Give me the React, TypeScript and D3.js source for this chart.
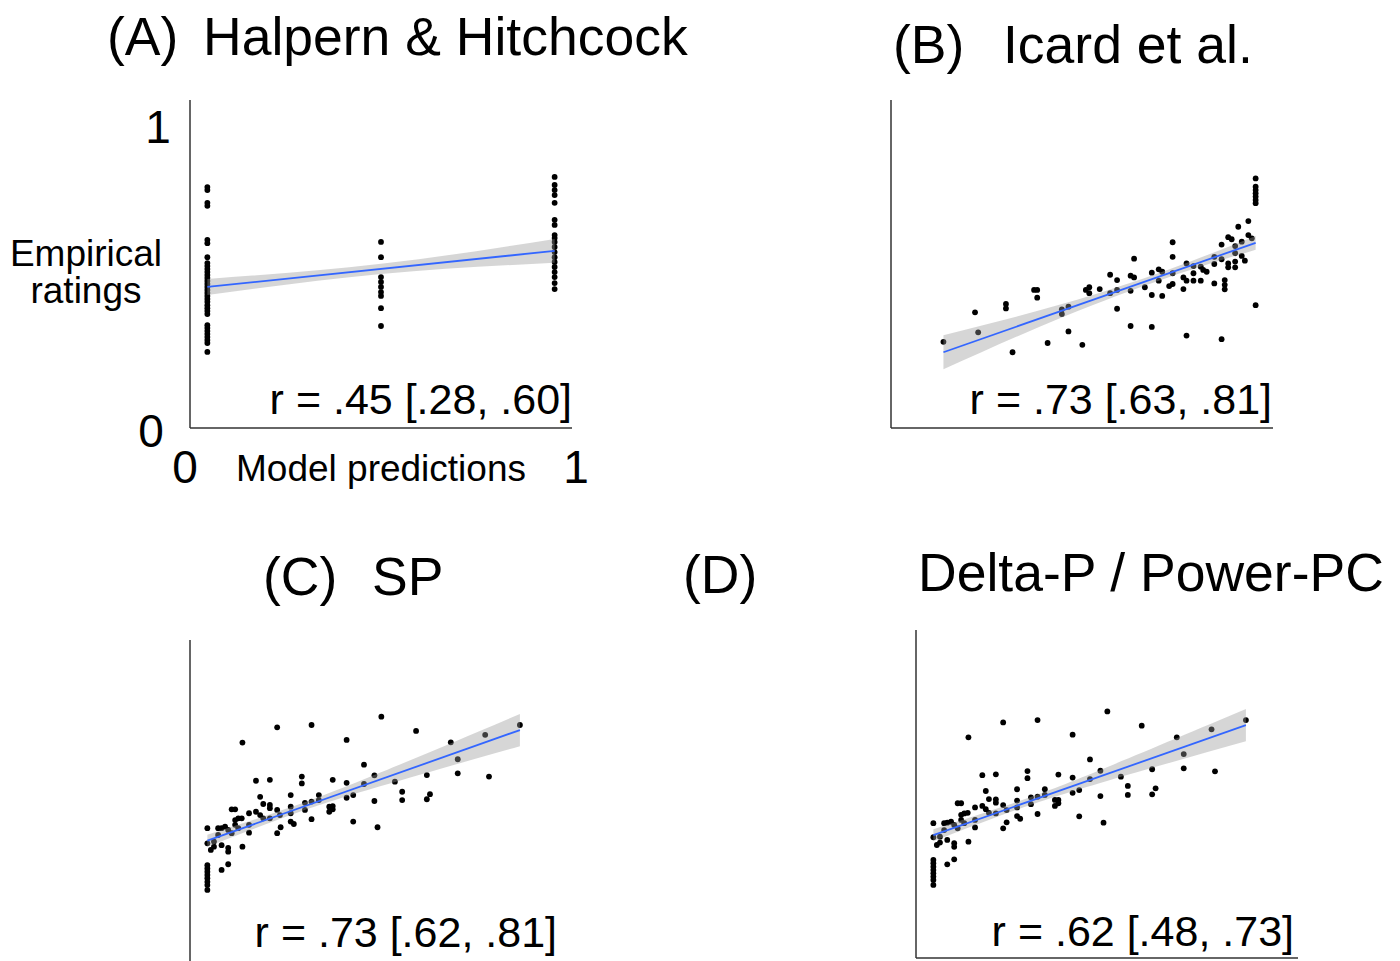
import React from 'react'
import * as d3 from 'd3'

// model prediction vs empirical rating
const pointsA: [number, number][] = [
  [0, 0.758], [0, 0.748], [0, 0.705], [0, 0.695], [0, 0.581], [0, 0.57], [0, 0.523],
  [0, 0.503], [0, 0.493], [0, 0.483], [0, 0.473], [0, 0.463], [0, 0.453], [0, 0.443],
  [0, 0.433], [0, 0.423], [0, 0.413], [0, 0.403], [0, 0.393], [0, 0.383], [0, 0.373],
  [0, 0.362], [0, 0.352], [0, 0.342], [0, 0.332], [0, 0.295], [0, 0.285], [0, 0.275],
  [0, 0.265], [0, 0.255], [0, 0.245], [0, 0.235], [0, 0.205],
  [0.5, 0.574], [0.5, 0.523], [0.5, 0.456], [0.5, 0.44], [0.5, 0.423], [0.5, 0.406],
  [0.5, 0.393], [0.5, 0.352], [0.5, 0.292],
  [1, 0.792], [1, 0.765], [1, 0.748], [1, 0.731], [1, 0.705], [1, 0.648], [1, 0.631],
  [1, 0.597], [1, 0.587], [1, 0.574], [1, 0.557], [1, 0.54], [1, 0.523], [1, 0.507],
  [1, 0.49], [1, 0.473], [1, 0.456], [1, 0.436], [1, 0.416]
]

const pointsB: [number, number][] = [
  [0.101, 0.239], [0.192, 0.338], [0.201, 0.271], [0.281, 0.366], [0.281, 0.351],
  [0.3, 0.204], [0.362, 0.413], [0.371, 0.413], [0.371, 0.387], [0.401, 0.235],
  [0.442, 0.348], [0.442, 0.332], [0.461, 0.357], [0.461, 0.274], [0.501, 0.229],
  [0.511, 0.413], [0.521, 0.422], [0.521, 0.402], [0.551, 0.416], [0.581, 0.464],
  [0.581, 0.402], [0.601, 0.446], [0.601, 0.413], [0.601, 0.35], [0.64, 0.461],
  [0.65, 0.455], [0.64, 0.41], [0.64, 0.292], [0.65, 0.518], [0.681, 0.422],
  [0.701, 0.471], [0.701, 0.396], [0.701, 0.289], [0.721, 0.482], [0.731, 0.474],
  [0.721, 0.444], [0.731, 0.393], [0.751, 0.426], [0.761, 0.433], [0.761, 0.469],
  [0.761, 0.573], [0.761, 0.524], [0.792, 0.455], [0.792, 0.416], [0.801, 0.502],
  [0.801, 0.444], [0.801, 0.26], [0.821, 0.493], [0.821, 0.469], [0.821, 0.444],
  [0.842, 0.491], [0.849, 0.48], [0.859, 0.474], [0.842, 0.444], [0.881, 0.524],
  [0.881, 0.5], [0.881, 0.435], [0.902, 0.565], [0.902, 0.516], [0.911, 0.446],
  [0.911, 0.43], [0.911, 0.415], [0.902, 0.248], [0.921, 0.59], [0.931, 0.583],
  [0.921, 0.502], [0.921, 0.489], [0.941, 0.56], [0.941, 0.536], [0.941, 0.508],
  [0.941, 0.489], [0.95, 0.625], [0.96, 0.575], [0.96, 0.527], [0.969, 0.511],
  [0.979, 0.644], [0.979, 0.597], [0.989, 0.586], [1, 0.787], [1, 0.759], [1, 0.748],
  [1, 0.737], [1, 0.726], [1, 0.715], [1, 0.704], [1, 0.362]
]

const pointsC: [number, number][] = [
  [0, 0.419], [0, 0.368], [0, 0.295], [0, 0.284], [0, 0.273], [0, 0.262], [0, 0.251],
  [0, 0.239], [0, 0.228], [0, 0.212], [0.01, 0.346], [0.019, 0.357], [0.019, 0.374],
  [0.031, 0.419], [0.041, 0.419], [0.051, 0.424], [0.031, 0.396], [0.041, 0.362],
  [0.041, 0.279], [0.06, 0.413], [0.06, 0.353], [0.06, 0.34], [0.06, 0.298],
  [0.07, 0.402], [0.07, 0.482], [0.08, 0.482], [0.08, 0.43], [0.08, 0.446],
  [0.089, 0.452], [0.099, 0.452], [0.089, 0.419], [0.101, 0.706], [0.101, 0.357],
  [0.12, 0.469], [0.12, 0.43], [0.12, 0.404], [0.14, 0.578], [0.14, 0.474],
  [0.152, 0.524], [0.152, 0.463], [0.161, 0.5], [0.161, 0.452], [0.18, 0.581],
  [0.18, 0.497], [0.18, 0.486], [0.18, 0.452], [0.201, 0.757], [0.201, 0.48],
  [0.209, 0.463], [0.201, 0.402], [0.211, 0.422], [0.24, 0.53], [0.24, 0.491],
  [0.24, 0.469], [0.24, 0.441], [0.249, 0.433], [0.272, 0.592], [0.272, 0.569],
  [0.281, 0.504], [0.281, 0.48], [0.3, 0.508], [0.3, 0.449], [0.3, 0.765],
  [0.321, 0.53], [0.321, 0.513], [0.351, 0.491], [0.351, 0.474], [0.361, 0.493],
  [0.361, 0.482], [0.361, 0.581], [0.401, 0.715], [0.401, 0.571], [0.401, 0.521],
  [0.42, 0.53], [0.42, 0.441], [0.451, 0.632], [0.451, 0.567], [0.481, 0.596],
  [0.481, 0.51], [0.49, 0.422], [0.501, 0.793], [0.54, 0.575], [0.561, 0.541],
  [0.561, 0.513], [0.601, 0.745], [0.632, 0.597], [0.632, 0.516], [0.641, 0.533],
  [0.701, 0.707], [0.721, 0.65], [0.721, 0.603], [0.8, 0.732], [0.811, 0.592],
  [0.9, 0.765]
]

const pointsD: [number, number][] = [
  [0, 0.402], [0, 0.355], [0, 0.279], [0, 0.268], [0, 0.256], [0, 0.245], [0, 0.234],
  [0, 0.223], [0, 0.212], [0, 0.195], [0.01, 0.329], [0.019, 0.337], [0.019, 0.357],
  [0.031, 0.402], [0.04, 0.404], [0.051, 0.407], [0.031, 0.379], [0.04, 0.346],
  [0.04, 0.264], [0.06, 0.396], [0.06, 0.335], [0.06, 0.323], [0.06, 0.281],
  [0.07, 0.385], [0.07, 0.469], [0.08, 0.469], [0.08, 0.413], [0.08, 0.43],
  [0.089, 0.435], [0.099, 0.437], [0.089, 0.402], [0.101, 0.69], [0.101, 0.34],
  [0.12, 0.455], [0.12, 0.413], [0.12, 0.388], [0.141, 0.563], [0.141, 0.46],
  [0.151, 0.51], [0.151, 0.449], [0.16, 0.483], [0.16, 0.437], [0.18, 0.566],
  [0.18, 0.482], [0.18, 0.471], [0.18, 0.435], [0.201, 0.74], [0.201, 0.463],
  [0.211, 0.446], [0.201, 0.385], [0.211, 0.405], [0.241, 0.516], [0.241, 0.478],
  [0.241, 0.455], [0.241, 0.426], [0.25, 0.417], [0.271, 0.577], [0.271, 0.553],
  [0.281, 0.489], [0.281, 0.466], [0.3, 0.491], [0.3, 0.433], [0.3, 0.748],
  [0.321, 0.516], [0.321, 0.497], [0.35, 0.48], [0.35, 0.46], [0.36, 0.48],
  [0.36, 0.469], [0.36, 0.565], [0.401, 0.699], [0.401, 0.555], [0.401, 0.504],
  [0.42, 0.513], [0.42, 0.425], [0.451, 0.616], [0.451, 0.55], [0.481, 0.578],
  [0.481, 0.493], [0.49, 0.404], [0.501, 0.777], [0.54, 0.558], [0.56, 0.527],
  [0.56, 0.497], [0.6, 0.729], [0.63, 0.583], [0.63, 0.499], [0.64, 0.519],
  [0.701, 0.69], [0.721, 0.634], [0.721, 0.586], [0.801, 0.717], [0.811, 0.576],
  [0.9, 0.748]
]

// fitted line ends and confidence half-widths
const fitA: [number, number][] = [[0, 0.423], [1, 0.544]]
const bandA: [number, number][] = [[0, 0.027], [0.5, 0.017], [1, 0.04]]
const fitB: [number, number][] = [[0.101, 0.204], [1, 0.571]]
const bandB: [number, number][] = [[0.101, 0.057], [0.445, 0.022], [0.75, 0.013], [1, 0.023]]
const fitC: [number, number][] = [[0, 0.377], [0.9, 0.748]]
const bandC: [number, number][] = [[0, 0.02], [0.25, 0.013], [0.5, 0.023], [0.9, 0.054]]
const fitD: [number, number][] = [[0, 0.362], [0.9, 0.731]]
const bandD: [number, number][] = [[0, 0.02], [0.25, 0.013], [0.5, 0.023], [0.9, 0.054]]

const rLabels = ['r = .45 [.28, .60]', 'r = .73 [.63, .81]', 'r = .73 [.62, .81]', 'r = .62 [.48, .73]']

const FONT = '"Liberation Sans", Arial, Helvetica, sans-serif'
const W = 382
const H = 328

type PanelProps = {
  left: number
  top: number
  points: [number, number][]
  fit: [number, number][]
  band: [number, number][]
  rLabel: string
  rX: number
  rY: number
  xAxis?: boolean
  labels?: boolean
}

const Panel = ({ left, top, points, fit, band, rLabel, rX, rY, xAxis = true, labels = false }: PanelProps) => {
  const x = d3.scaleLinear().domain([-0.05, 1.05]).range([left, left + W])
  const y = d3.scaleLinear().domain([-0.05, 1.05]).range([top + H, top])
  const fitLine = d3.scaleLinear().domain([fit[0][0], fit[1][0]]).range([fit[0][1], fit[1][1]])

  const area = d3
    .area<[number, number]>()
    .x(d => x(d[0]))
    .y0(d => y(fitLine(d[0]) - d[1]))
    .y1(d => y(fitLine(d[0]) + d[1]))
    .curve(d3.curveNatural)
  const line = d3
    .line<[number, number]>()
    .x(d => x(d[0]))
    .y(d => y(d[1]))

  return (
    <g>
      <line x1={left} x2={left} y1={top} y2={top + H} stroke="#333" strokeWidth={1.5} />
      {xAxis && <line x1={left} x2={left + W} y1={top + H} y2={top + H} stroke="#333" strokeWidth={1.5} />}
      {points.map((d, i) => (
        <circle key={i} cx={x(d[0])} cy={y(d[1])} r={2.9} fill="#000" />
      ))}
      <path d={area(band) || ''} fill="#999999" fillOpacity={0.4} />
      <path d={line(fit) || ''} stroke="#3366FF" strokeWidth={1.8} fill="none" />
      <text x={rX} y={rY} textAnchor="end" fontSize={43}>
        {rLabel}
      </text>
      {labels && (
        <g>
          <text x={left - 32} y={top + 43} textAnchor="middle" fontSize={46}>1</text>
          <text x={left - 39} y={top + H + 19} textAnchor="middle" fontSize={46}>0</text>
          <text x={left - 5} y={top + H + 55} textAnchor="middle" fontSize={46}>0</text>
          <text x={left + W + 4} y={top + H + 55} textAnchor="middle" fontSize={46}>1</text>
          <text x={x(0.5)} y={top + H + 53} textAnchor="middle" fontSize={37}>Model predictions</text>
          <text x={86} y={top + 166} textAnchor="middle" fontSize={37}>Empirical</text>
          <text x={86} y={top + 203} textAnchor="middle" fontSize={37}>ratings</text>
        </g>
      )}
    </g>
  )
}

export default function App() {
  return (
    <svg
      width={1400}
      height={961}
      style={{ position: 'absolute', left: 0, top: 0, background: '#fff' }}
      fontFamily={FONT}
    >
      <g fontSize={53.5}>
        <text x={107} y={55}>(A)</text>
        <text x={203} y={55}>Halpern &amp; Hitchcock</text>
        <text x={893} y={63}>(B)</text>
        <text x={1003} y={63}>Icard et al.</text>
        <text x={263} y={595}>(C)</text>
        <text x={372} y={595}>SP</text>
        <text x={683} y={593}>(D)</text>
        <text x={918} y={591}>Delta-P / Power-PC</text>
      </g>
      <Panel left={190} top={100} points={pointsA} fit={fitA} band={bandA} rLabel={rLabels[0]} rX={572} rY={414} labels />
      <Panel left={891} top={100} points={pointsB} fit={fitB} band={bandB} rLabel={rLabels[1]} rX={1272} rY={414} />
      <Panel left={190} top={640} points={pointsC} fit={fitC} band={bandC} rLabel={rLabels[2]} rX={557} rY={947} xAxis={false} />
      <Panel left={916} top={630} points={pointsD} fit={fitD} band={bandD} rLabel={rLabels[3]} rX={1294} rY={946} />
    </svg>
  )
}
